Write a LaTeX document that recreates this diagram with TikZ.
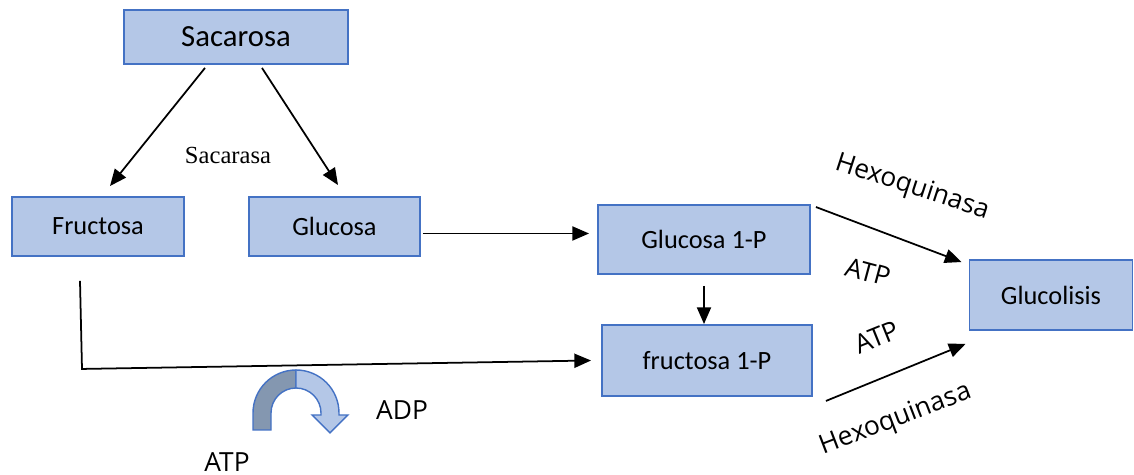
\documentclass[tikz,border=0pt]{standalone}
\usepackage{fontspec}
\setmainfont{Carlito}
\newfontfamily\segoe{Open Sans}
\newfontfamily\timesf{Liberation Serif}
\usepackage{xcolor}
\usepackage{tikz}
\usetikzlibrary{arrows.meta,positioning,calc}
\definecolor{boxfill}{HTML}{B4C7E7}
\definecolor{boxline}{HTML}{4472C4}
\definecolor{legdark}{HTML}{8497B0}

\begin{document}
\begin{tikzpicture}[x=0.02cm,y=0.02cm,
  box/.style={draw=boxline,fill=boxfill,line width=1.1pt,inner sep=0pt,font=\fontsize{15}{18}\selectfont},
  arr/.style={-{Triangle[length=9.5pt,width=8pt]},line width=1pt},
  lbl/.style={font=\segoe\fontsize{15}{18}\selectfont}]
\useasboundingbox (0,0) rectangle (1134,475);
% boxes
\node[box,minimum width=4.48cm,minimum height=1.08cm,font=\fontsize{17.5}{20}\selectfont] (sac) at (236,438) {Sacarosa};
\node[box,minimum width=3.44cm,minimum height=1.18cm] (fru) at (98,248.5) {Fructosa};
\node[box,minimum width=3.42cm,minimum height=1.18cm] (glu) at (334.5,248.5) {Glucosa};
\node[box,minimum width=4.24cm,minimum height=1.38cm] (glu1p) at (704,235.5) {Glucosa 1-P};
\node[box,minimum width=4.2cm,minimum height=1.42cm] (fru1p) at (707,114.5) {fructosa 1-P};
\node[box,minimum width=3.26cm,minimum height=1.4cm] (glucol) at (1051,180) {Glucolisis};
% connectors
\draw[arr] ($(sac.south)+(-31,-3)$) -- ($(fru.north)+(12,10)$);
\draw[arr] ($(sac.south)+(26,-3)$) -- ($(glu.north)+(3.5,11)$);
\draw[arr] ($(glu.east)+(2,-7)$) -- ($(glu1p.west)+(-8,6)$);
\draw[arr] ($(glu1p.south)+(0,-11)$) -- (glu1p.south |- fru1p.north);
\draw[arr] ($(fru.south)+(-18,-24)$) -- ++(2,-88) -- ($(fru1p.west)+(-10,0)$);
\draw[arr] ($(glu1p.north east)+(5,-3)$) -- ($(glucol.north west)+(-7,-3)$);
\draw[arr] ($(fru1p.south east)+(13,-4)$) -- ($(glucol.south west)+(-3,-13)$);
% labels
\node[font=\timesf\fontsize{14}{16}\selectfont] (sacarasa) at (228,320) {Sacarasa};
\node[lbl,rotate=-18] (hexo1) at (912,287) {Hexoquinasa};
\node[lbl,rotate=-15] (atp1) at (868,203) {ATP};
\node[lbl,rotate=22] (atp2) at (877,138) {ATP};
\node[lbl,rotate=21] (hexo2) at (896,55) {Hexoquinasa};
\node[lbl] (adp) at (402,65) {ADP};
\node[lbl,anchor=base] (atp3) at (227,3) {ATP};
% u-turn arrow
\filldraw[fill=legdark,draw=boxline,line width=0.8pt] (253,45) -- (253,62) arc (180:90:0.86cm) -- (296,87) arc (90:180:0.5cm) -- (271,45) -- cycle;
\filldraw[fill=boxfill,draw=boxline,line width=0.8pt] (296,105) arc (90:0:0.86cm) -- (339,60) -- (348,60) -- (330,42) -- (312,60) -- (321,60) -- (321,62) arc (0:90:0.5cm) -- cycle;
\end{tikzpicture}
\end{document}
